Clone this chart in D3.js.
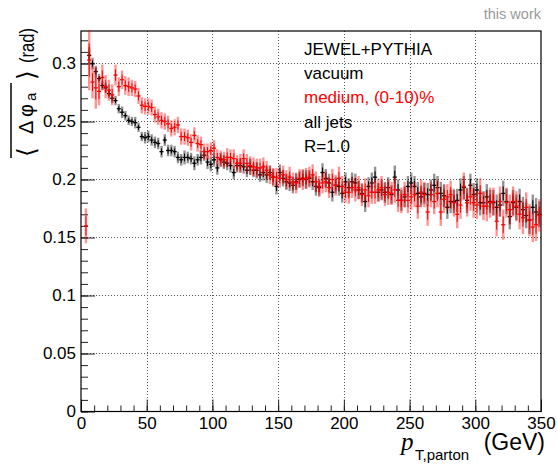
<!DOCTYPE html>
<html>
<head>
<meta charset="utf-8">
<script src="https://cdn.jsdelivr.net/npm/d3@7"></script>
<style>
  body { margin: 0; background: #fff; }
  svg text { font-family: "Liberation Sans", Arial, sans-serif; }
</style>
</head>
<body>
<div id="chart"></div>
<script>
// pT bins: 140 bins of 2.5 GeV from 0 to 350
const binWidth = 2.5;

// vacuum (black) mean delta phi per bin, null = empty bin
const vacuum = [null, null,
  0.307,0.300,0.293,0.287,0.281,0.279,0.274,0.270,
  0.268,0.261,0.258,0.255,0.251,0.250,0.249,0.245,0.237,0.236,
  0.237,0.234,0.232,0.231,0.224,0.234,0.225,0.225,0.224,0.219,
  0.217,0.219,0.219,0.218,0.214,0.217,0.219,0.221,0.215,0.213,
  0.217,0.210,0.217,0.215,0.214,0.212,0.206,0.212,0.212,0.211,
  0.208,0.211,0.208,0.208,0.204,0.206,0.204,0.206,0.202,0.194,
  0.206,0.201,0.198,0.197,0.195,0.198,0.200,0.201,0.200,0.201,
  0.198,0.194,0.193,0.206,0.201,0.197,0.189,0.195,0.194,0.188,
  0.198,0.193,0.198,0.197,0.191,0.188,0.181,0.194,0.197,0.202,
  0.189,0.191,0.189,0.193,0.187,0.202,0.191,0.182,0.185,0.194,
  0.197,0.194,0.188,0.185,0.188,0.187,0.191,0.195,0.193,0.188,
  0.186,0.176,0.181,0.181,0.182,0.191,0.193,0.182,0.195,0.187,
  0.191,0.180,0.180,0.185,0.181,0.180,0.176,0.178,0.188,0.181,
  0.168,0.180,0.176,0.181,0.174,0.169,0.165,0.176,0.172,0.170];

const vacuumErr = [null, null,
  0.007,0.005,0.005,0.004,0.004,0.004,0.004,0.004,
  0.004,0.004,0.005,0.004,0.004,0.004,0.005,0.004,0.004,0.005,
  0.005,0.005,0.005,0.005,0.005,0.005,0.005,0.005,0.005,0.005,
  0.005,0.006,0.005,0.005,0.006,0.005,0.006,0.005,0.006,0.006,
  0.006,0.006,0.006,0.006,0.006,0.006,0.006,0.006,0.006,0.006,
  0.006,0.007,0.006,0.007,0.006,0.007,0.007,0.006,0.007,0.007,
  0.007,0.007,0.007,0.007,0.007,0.007,0.007,0.007,0.008,0.007,
  0.007,0.008,0.007,0.008,0.008,0.008,0.008,0.007,0.008,0.008,
  0.008,0.008,0.008,0.008,0.008,0.008,0.009,0.008,0.009,0.009,
  0.008,0.009,0.009,0.009,0.008,0.010,0.009,0.009,0.009,0.009,
  0.009,0.009,0.010,0.009,0.009,0.010,0.009,0.010,0.010,0.010,
  0.010,0.010,0.010,0.010,0.010,0.010,0.010,0.011,0.010,0.010,
  0.010,0.011,0.010,0.011,0.010,0.011,0.011,0.010,0.011,0.011,
  0.011,0.011,0.011,0.011,0.011,0.011,0.012,0.011,0.012,0.011];

// medium 0-10% (red)
const medium = [null, 0.160,
  0.303,0.284,0.279,0.276,0.288,0.280,0.277,0.273,
  0.290,0.280,0.286,0.281,0.280,0.279,0.278,0.272,0.264,0.263,
  0.263,0.262,0.256,0.254,0.251,0.250,0.248,0.244,0.245,0.247,
  0.237,0.237,0.236,0.232,0.238,0.231,0.230,0.224,0.224,0.225,
  0.227,0.219,0.218,0.217,0.219,0.219,0.218,0.214,0.214,0.218,
  0.214,0.212,0.211,0.210,0.210,0.211,0.208,0.204,0.202,0.202,
  0.201,0.204,0.200,0.202,0.198,0.197,0.201,0.200,0.201,0.202,
  0.204,0.198,0.194,0.197,0.198,0.193,0.200,0.195,0.201,0.194,
  0.189,0.189,0.193,0.191,0.193,0.187,0.191,0.186,0.189,0.189,
  0.191,0.193,0.187,0.189,0.188,0.191,0.182,0.182,0.187,0.182,
  0.185,0.187,0.177,0.189,0.187,0.172,0.187,0.181,0.188,0.172,
  0.183,0.185,0.187,0.180,0.170,0.178,0.194,0.180,0.185,0.180,
  0.178,0.188,0.177,0.177,0.180,0.181,0.164,0.181,0.161,0.180,
  0.174,0.181,0.177,0.170,0.167,0.176,0.165,0.159,0.161,0.169];

const mediumErr = [null, 0.015,
  0.026,0.014,0.018,0.012,0.011,0.010,0.009,0.009,
  0.009,0.008,0.008,0.008,0.008,0.007,0.007,0.007,0.007,0.007,
  0.007,0.007,0.007,0.007,0.007,0.007,0.007,0.007,0.007,0.007,
  0.007,0.007,0.007,0.007,0.007,0.007,0.007,0.007,0.007,0.007,
  0.007,0.007,0.007,0.007,0.008,0.007,0.008,0.007,0.008,0.008,
  0.008,0.008,0.008,0.008,0.008,0.008,0.008,0.008,0.008,0.008,
  0.008,0.008,0.008,0.009,0.008,0.009,0.008,0.009,0.009,0.009,
  0.009,0.009,0.009,0.009,0.009,0.009,0.009,0.009,0.010,0.009,
  0.009,0.010,0.009,0.010,0.010,0.010,0.010,0.010,0.010,0.010,
  0.010,0.010,0.010,0.011,0.010,0.011,0.010,0.011,0.011,0.011,
  0.011,0.011,0.011,0.011,0.011,0.012,0.011,0.011,0.012,0.012,
  0.012,0.011,0.012,0.012,0.012,0.012,0.012,0.012,0.012,0.013,
  0.012,0.013,0.012,0.013,0.013,0.012,0.013,0.013,0.013,0.013,
  0.013,0.013,0.013,0.013,0.014,0.013,0.014,0.013,0.014,0.014];

const xMajor = [0, 50, 100, 150, 200, 250, 300, 350];
const yMajor = [0, 0.05, 0.1, 0.15, 0.2, 0.25, 0.3];
const legendLines = [
  { text: "JEWEL+PYTHIA", color: "#000" },
  { text: "vacuum", color: "#000" },
  { text: "medium, (0-10)%", color: "#ff0000" },
  { text: "all jets", color: "#000" },
  { text: "R=1.0", color: "#000" }
];

const width = 557, height = 466;
const frame = { left: 81, right: 541, top: 31, bottom: 411.5 };

const svg = d3.select("#chart").append("svg")
  .attr("width", width)
  .attr("height", height);

const x = d3.scaleLinear().domain([0, 350]).range([frame.left, frame.right]);
const y = d3.scaleLinear().domain([0, 0.328]).range([frame.bottom, frame.top]);

// grid (dotted)
const grid = svg.append("g").attr("stroke", "#555").attr("stroke-dasharray", "1,2").attr("stroke-width", 1);
grid.selectAll(".gx").data(xMajor.filter(d => d > 0 && d < 350)).enter().append("line")
  .attr("x1", d => Math.round(x(d)) + 0.5).attr("x2", d => Math.round(x(d)) + 0.5)
  .attr("y1", frame.top).attr("y2", frame.bottom);
grid.selectAll(".gy").data(yMajor.filter(d => d > 0)).enter().append("line")
  .attr("y1", d => Math.round(y(d)) + 0.5).attr("y2", d => Math.round(y(d)) + 0.5)
  .attr("x1", frame.left).attr("x2", frame.right);

// axes, ROOT style ticks pointing inward
const fmt = d => d === 0 ? "0" : String(+d.toFixed(2));

svg.append("g")
  .attr("transform", `translate(0,${frame.bottom})`)
  .call(d3.axisBottom(x).tickValues(xMajor).tickSizeInner(-12).tickSizeOuter(0).tickPadding(5).tickFormat(fmt));
svg.append("g")
  .attr("transform", `translate(0,${frame.bottom})`)
  .call(d3.axisBottom(x).tickValues(d3.range(0, 351, 10)).tickSizeInner(-6).tickSizeOuter(0).tickFormat(""));

svg.append("g")
  .attr("transform", `translate(${frame.left},0)`)
  .call(d3.axisLeft(y).tickValues(yMajor).tickSizeInner(-14).tickSizeOuter(0).tickPadding(5).tickFormat(fmt));
svg.append("g")
  .attr("transform", `translate(${frame.left},0)`)
  .call(d3.axisLeft(y).tickValues(d3.range(0, 33).map(i => i / 100)).tickSizeInner(-7).tickSizeOuter(0).tickFormat(""));

svg.selectAll(".tick text").style("font-size", "17px").attr("fill", "#000");
svg.selectAll(".tick line").attr("stroke", "#222");
svg.selectAll(".domain").remove();

// frame
svg.append("rect")
  .attr("x", frame.left).attr("y", frame.top)
  .attr("width", frame.right - frame.left).attr("height", frame.bottom - frame.top)
  .attr("fill", "none").attr("stroke", "#000").attr("stroke-width", 1.2);

// data points with error bars
function drawSeries(vals, errs, color) {
  const pts = vals.map((v, i) => ({ c: (i + 0.5) * binWidth, v: v, e: errs[i] }))
    .filter(d => d.v != null);
  const g = svg.append("g");
  // light wide error band
  g.selectAll(".eb").data(pts).enter().append("line")
    .attr("x1", d => x(d.c)).attr("x2", d => x(d.c))
    .attr("y1", d => y(d.v - d.e)).attr("y2", d => y(d.v + d.e))
    .attr("stroke", color).attr("stroke-opacity", 0.42).attr("stroke-width", 2.4);
  // core error line
  g.selectAll(".ec").data(pts).enter().append("line")
    .attr("x1", d => x(d.c)).attr("x2", d => x(d.c))
    .attr("y1", d => y(d.v - d.e * 0.55)).attr("y2", d => y(d.v + d.e * 0.55))
    .attr("stroke", color).attr("stroke-width", 1);
  // horizontal bin bar
  g.selectAll(".hb").data(pts).enter().append("line")
    .attr("x1", d => x(d.c - binWidth / 2) - 0.4).attr("x2", d => x(d.c + binWidth / 2) + 0.4)
    .attr("y1", d => y(d.v)).attr("y2", d => y(d.v))
    .attr("stroke", color).attr("stroke-width", 1.3);
}
drawSeries(vacuum, vacuumErr, "#000");
drawSeries(medium, mediumErr, "#ff0000");

// legend text
svg.append("g").selectAll("text").data(legendLines).enter().append("text")
  .attr("x", 304)
  .attr("y", (d, i) => 55 + i * 24.2)
  .attr("fill", d => d.color)
  .style("font-size", "17px")
  .text(d => d.text);

// "this work"
svg.append("text")
  .attr("x", 541).attr("y", 19)
  .attr("text-anchor", "end")
  .attr("fill", "#999")
  .style("font-size", "14.5px")
  .text("this work");

// x title: p_{T,parton} (GeV)
svg.append("text")
  .attr("x", 545).attr("y", 450)
  .attr("text-anchor", "end")
  .style("font-size", "23px")
  .text("(GeV)");
svg.append("text")
  .attr("x", 415).attr("y", 460)
  .style("font-size", "15px")
  .text("T,parton");
svg.append("text")
  .attr("x", 401).attr("y", 450)
  .style("font-family", "'Liberation Serif', serif")
  .style("font-style", "italic")
  .style("font-size", "25px")
  .text("p");

// y title, rotated; local x = -page y, local y = page x offset
const yt = svg.append("g").attr("transform", "translate(33,0) rotate(-90)");
yt.append("text").attr("x", -157).attr("y", 2).style("font-size", "25px").style("font-family", "'DejaVu Sans', sans-serif").text("\u27E8");
yt.append("text").attr("x", -134).style("font-size", "20px").text("\u0394");
yt.append("text").attr("x", -117).style("font-size", "20px").text("\u03C6");
yt.append("text").attr("x", -101).attr("y", 3).style("font-size", "15px").text("a");
yt.append("text").attr("x", -80).attr("y", 2).style("font-size", "25px").style("font-family", "'DejaVu Sans', sans-serif").text("\u27E9");
yt.append("text").attr("x", -63).attr("y", 1)
  .attr("textLength", 35).attr("lengthAdjust", "spacingAndGlyphs")
  .style("font-size", "20px").text("(rad)");
yt.append("line")
  .attr("x1", -158).attr("x2", -83)
  .attr("y1", -22).attr("y2", -22)
  .attr("stroke", "#000").attr("stroke-width", 1.5);
</script>
</body>
</html>
